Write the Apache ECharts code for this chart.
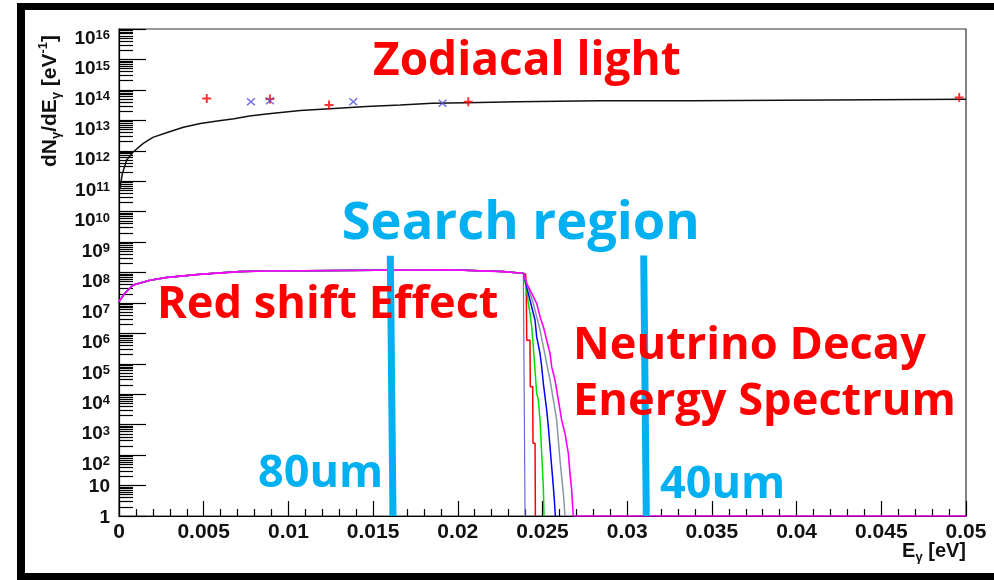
<!DOCTYPE html>
<html><head><meta charset="utf-8">
<script src="https://cdn.jsdelivr.net/npm/echarts@6/dist/echarts.min.js"></script>
<style>html,body{margin:0;padding:0;background:#fff}#c{width:994px;height:580px}</style>
</head><body><div id="c"></div>
<script>
// ---- tick labels ----
const xTickLabels = ['0','0.005','0.01','0.015','0.02','0.025','0.03','0.035','0.04','0.045','0.05'];
const yTickValues = [1,1e1,1e2,1e3,1e4,1e5,1e6,1e7,1e8,1e9,1e10,1e11,1e12,1e13,1e14,1e15,1e16];
const yTickLabels = ['1','10','2','3','4','5','6','7','8','9','10','11','12','13','14','15','16'];
const yMinorMultipliers = [2,3,4,5,6,7,8,9];

// ---- zodiacal light model (black) ----
const zodiacal = [[0.00006,6.0e10],[0.0002,1.8e11],[0.00045,5.0e11],[0.00085,9.3e11],[0.00143,1.75e12],[0.0020,2.75e12],[0.0028,3.9e12],[0.0038,5.9e12],[0.0048,7.9e12],[0.0058,9.5e12],[0.0068,1.12e13],[0.0077,1.38e13],[0.0087,1.62e13],[0.0107,2.09e13],[0.0127,2.45e13],[0.0146,2.82e13],[0.0166,3.16e13],[0.0185,3.63e13],[0.0205,3.8e13],[0.0235,4.07e13],[0.0284,4.37e13],[0.0338,4.37e13],[0.0338,4.9e13],[0.05,4.9e13]];
// measurements
const zodiRed = [[0.00518,5.25e13],[0.00891,5.0e13],[0.0124,3.16e13],[0.02062,4.07e13],[0.0496,5.6e13]];
const zodiBlue = [[0.00779,4.07e13],[0.00891,4.37e13],[0.01383,4.07e13],[0.0191,3.63e13]];

// ---- neutrino decay spectra ----
const plateau = [[0,1.1e7],[0.00006,1.26e7],[0.00035,2.1e7],[0.00084,3.9e7],[0.00183,5.6e7],[0.00282,6.9e7],[0.00478,8.7e7],[0.00714,1.07e8],[0.00881,1.12e8],[0.00881,1.23e8],[0.01944,1.23e8],[0.01944,1.07e8],[0.02267,1.07e8],[0.02267,9.8e7],[0.02348,9.8e7],[0.02387,9.4e7]];
const tailSlate = [[0.02397,9.4e7],[0.02397,1]];
const tailRed = [[0.02400,9.0e7],[0.02404,3.4e7],[0.02407,6.0e5],[0.02426,6.0e5],[0.02428,1.78e4],[0.02442,1.78e4],[0.02444,245],[0.02456,245],[0.02458,1]];
const tailGreen = [[0.024066,2.66e7],[0.024164,9.7e6],[0.024262,4.55e6],[0.024361,1.66e6],[0.024459,3.66e5],[0.024557,6.3e4],[0.024656,1.07e4],[0.024754,6.5e3],[0.024853,1.43e3],[0.024951,115],[0.025049,9.2],[0.025089,1]];
const tailBlue = [[0.024164,2.07e7],[0.024361,7.5e6],[0.024557,2.75e6],[0.024656,7.8e5],[0.024853,2.2e5],[0.024951,8.05e4],[0.025049,2.29e4],[0.025148,8.3e3],[0.025246,3.04e3],[0.025344,861],[0.025443,190],[0.025541,41.8],[0.025640,9.2],[0.025699,3.36],[0.025758,1]];
const tailGrey = [[0.024262,2.07e7],[0.024459,9.7e6],[0.024656,3.54e6],[0.024853,1.29e6],[0.025049,3.66e5],[0.025246,1.04e5],[0.025443,2.94e4],[0.025640,6.5e3],[0.025836,1.43e3],[0.025935,314],[0.026033,69],[0.026131,19.6],[0.026230,5.6],[0.026328,1]];
const tailMagenta = [[0.024066,4.4e7],[0.024361,2.07e7],[0.024656,9.7e6],[0.024853,3.54e6],[0.025049,1.66e6],[0.025246,6.05e5],[0.025443,2.2e5],[0.025541,8.05e4],[0.025738,2.94e4],[0.025935,6.5e3],[0.026131,1.43e3],[0.026328,520],[0.026525,115],[0.026623,25.2],[0.026722,7.2],[0.026781,2.03],[0.026820,1],[0.05,1]];

// ---- search region boundaries ----
const search80 = [[0.016016,3.55e8],[0.016175,1]];
const search40 = [[0.030974,3.6e8],[0.031128,1]];

// ---------------------------------------------------
const yMinorValues = [];
for (let n = 0; n < 16; n++) for (const m of yMinorMultipliers) yMinorValues.push(m * yTickValues[n]);
const yPowerTicks = yTickValues.slice(2);
const yPlainTicks = yTickValues.slice(0, 2);

const FONT = 'Liberation Sans';
const ANNO = 'Open Sans';
const CYAN = '#00B0F0';

const plusPath = 'path://M3.9,0h2.2v3.9h3.9v2.2h-3.9v3.9h-2.2v-3.9h-3.9v-2.2h3.9Z';
const crossPath = 'path://M0,1.2L1.2,0L5,3.8L8.8,0L10,1.2L6.2,5L10,8.8L8.8,10L5,6.2L1.2,10L0,8.8L3.8,5Z';

function lineSeries(data, color, width, z) {
  return {type:'line', data:data, symbol:'none', showSymbol:false, lineStyle:{color:color, width:width}, z:z, animation:false, silent:true};
}
function expOf(v){ return Math.round(Math.log10(v)); }

const chart = echarts.init(document.getElementById('c'));
chart.setOption({
  animation:false,
  backgroundColor:'#fff',
  grid:{left:119, right:28, top:29, bottom:64, show:true, borderColor:'#333', borderWidth:1.2, backgroundColor:'transparent'},
  xAxis:{
    type:'value', min:0, max:0.05, interval:0.005,
    axisLine:{show:true, onZero:false, lineStyle:{color:'#000', width:1.2}},
    axisTick:{show:true, inside:true, length:15, lineStyle:{color:'#000', width:1.2}},
    minorTick:{show:true, splitNumber:5, length:7, lineStyle:{color:'#000', width:1.2}},
    splitLine:{show:false},
    axisLabel:{
      formatter:function(v){ return xTickLabels[Math.round(v/0.005)]; },
      fontFamily:FONT, fontWeight:'bold', fontSize:21, color:'#111', margin:6,
      showMinLabel:true, showMaxLabel:true
    }
  },
  yAxis:[{
    type:'log', logBase:10, min:1, max:1e16,
    axisLine:{show:true, lineStyle:{color:'#000', width:1.2}},
    axisTick:{show:true, inside:true, length:27, customValues:yTickValues, lineStyle:{color:'#000', width:1.2}},
    splitLine:{show:false},
    axisLabel:{
      customValues:yPowerTicks, margin:9, showMinLabel:true, showMaxLabel:true, hideOverlap:false,
      verticalAlign:'top',
      formatter:function(v){ return '{b|10}{s|' + yTickLabels[expOf(v)] + '}'; },
      rich:{
        b:{fontFamily:FONT, fontWeight:'bold', fontSize:19, color:'#111', lineHeight:16, verticalAlign:'top'},
        s:{fontFamily:FONT, fontWeight:'bold', fontSize:13, color:'#111', lineHeight:4, verticalAlign:'top'}
      }
    }
  },{
    type:'log', logBase:10, min:1, max:1e16, position:'left',
    axisLine:{show:false},
    axisTick:{show:true, inside:true, length:14, customValues:yMinorValues, lineStyle:{color:'#000', width:1.2}},
    axisLabel:{
      show:true, customValues:yPlainTicks, margin:9, showMinLabel:true, showMaxLabel:true, hideOverlap:false,
      verticalAlign:'middle',
      formatter:function(v){ return '{p|' + yTickLabels[expOf(v)] + '}'; },
      rich:{ p:{fontFamily:FONT, fontWeight:'bold', fontSize:19, color:'#111', lineHeight:19, padding:[3,0,0,0]} }
    },
    splitLine:{show:false}
  }],
  series:[
    lineSeries(zodiacal, '#111', 1.5, 3),
    {type:'scatter', data:zodiRed, symbol:plusPath, symbolSize:[9,9], itemStyle:{color:'#ff0000'}, z:4, silent:true},
    {type:'scatter', data:zodiBlue, symbol:crossPath, symbolSize:[9,8], itemStyle:{color:'#5050d0'}, z:4, silent:true},
    lineSeries(plateau.concat(tailSlate), '#6a6ad0', 1.2, 3),
    lineSeries(plateau.concat(tailRed), '#ff0000', 1.5, 3),
    lineSeries(plateau.concat(tailGreen), '#00dd00', 1.5, 3),
    lineSeries(plateau.concat(tailBlue), '#0000ff', 1.5, 3),
    lineSeries(plateau.concat(tailGrey), '#8796a8', 1.5, 3),
    lineSeries(plateau.concat(tailMagenta), '#ff00ff', 1.6, 3),
    lineSeries(search80, CYAN, 7, 6),
    lineSeries(search40, CYAN, 7, 6)
  ],
  graphic:[
    {type:'rect', z:100, shape:{x:17, y:3, width:977, height:7}, style:{fill:'#000'}},
    {type:'rect', z:100, shape:{x:17, y:3, width:8, height:577}, style:{fill:'#000'}},
    {type:'rect', z:100, shape:{x:17, y:573, width:977, height:7}, style:{fill:'#000'}},
    {type:'text', z:100, x:373, y:61.6, style:{text:'Zodiacal light', fill:'#ff0000', fontFamily:ANNO, fontWeight:'bold', fontSize:46, align:'left', verticalAlign:'middle'}},
    {type:'text', z:100, x:341.7, y:224.4, style:{text:'Search region', fill:CYAN, fontFamily:ANNO, fontWeight:'bold', fontSize:52.5, align:'left', verticalAlign:'middle'}},
    {type:'text', z:100, x:157, y:305.6, style:{text:'Red shift Effect', fill:'#ff0000', fontFamily:ANNO, fontWeight:'bold', fontSize:45.2, align:'left', verticalAlign:'middle'}},
    {type:'text', z:100, x:573, y:346, style:{text:'Neutrino Decay', fill:'#ff0000', fontFamily:ANNO, fontWeight:'bold', fontSize:45.2, align:'left', verticalAlign:'middle'}},
    {type:'text', z:100, x:573, y:402, style:{text:'Energy Spectrum', fill:'#ff0000', fontFamily:ANNO, fontWeight:'bold', fontSize:45.2, align:'left', verticalAlign:'middle'}},
    {type:'text', z:100, x:258, y:474, style:{text:'80um', fill:CYAN, fontFamily:ANNO, fontWeight:'bold', fontSize:45, align:'left', verticalAlign:'middle'}},
    {type:'text', z:100, x:660, y:485.6, style:{text:'40um', fill:CYAN, fontFamily:ANNO, fontWeight:'bold', fontSize:45, align:'left', verticalAlign:'middle'}},
    {type:'text', z:100, x:50, y:101, rotation:Math.PI/2, style:{
      text:'dN{sub|γ}/dE{sub|γ} [eV{sup|-1}]', fill:'#111', fontFamily:FONT, fontWeight:'bold', fontSize:21, lineHeight:26,
      align:'center', verticalAlign:'middle',
      rich:{
        sub:{fontFamily:FONT, fontWeight:'bold', fontSize:13, lineHeight:13, verticalAlign:'bottom', fill:'#111'},
        sup:{fontFamily:FONT, fontWeight:'bold', fontSize:13, lineHeight:13, verticalAlign:'top', fill:'#111'}
      }}},
    {type:'text', z:100, x:966, y:551, style:{
      text:'E{sub|γ} [eV]', fill:'#111', fontFamily:FONT, fontWeight:'bold', fontSize:20, lineHeight:26,
      align:'right', verticalAlign:'middle',
      rich:{ sub:{fontFamily:FONT, fontWeight:'bold', fontSize:13, lineHeight:13, verticalAlign:'bottom', fill:'#111'} }}}
  ]
});
</script></body></html>
